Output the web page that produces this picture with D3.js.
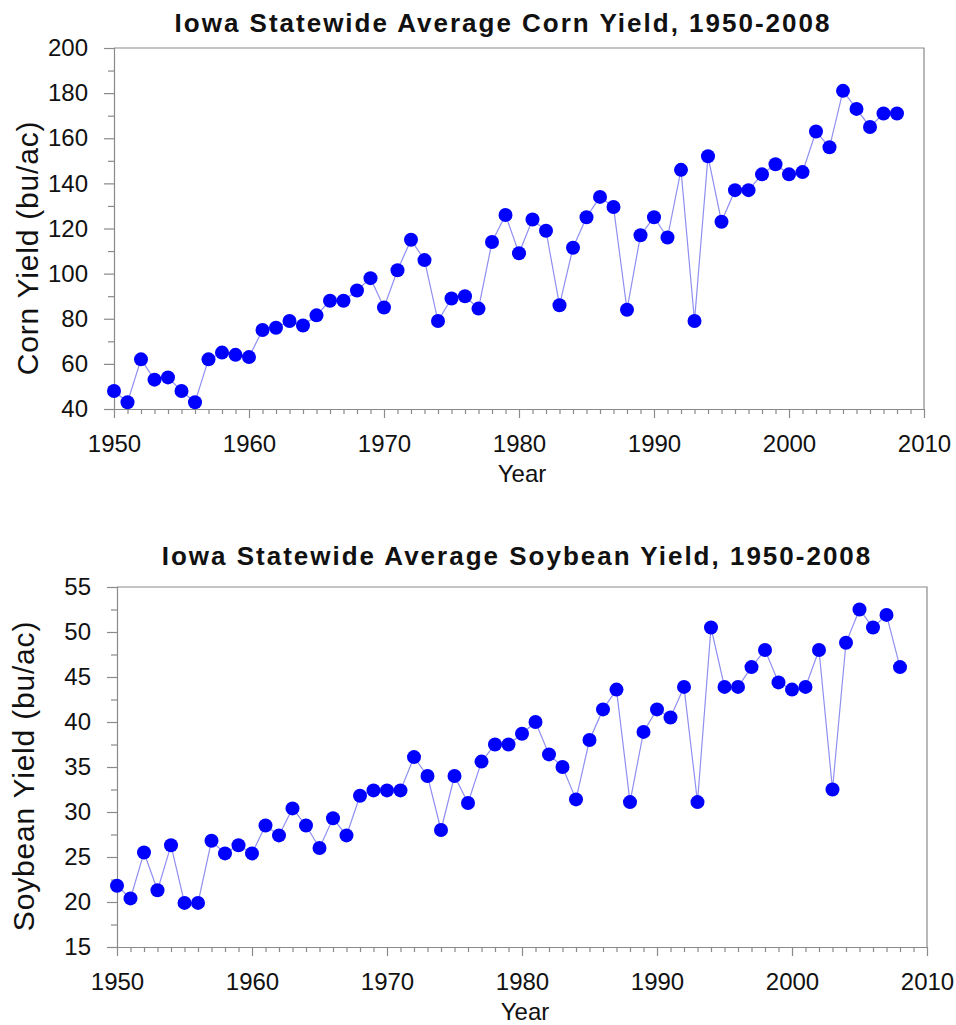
<!DOCTYPE html>
<html>
<head>
<meta charset="utf-8">
<script src="https://cdn.jsdelivr.net/npm/d3@7"></script>
<style>
  body { margin: 0; background: #fff; }
  text { font-family: "Liberation Sans", Arial, sans-serif; fill: #111; }
</style>
</head>
<body>
<svg id="chart" width="956" height="1025"></svg>
<script>
'use strict';

const years = [
  1950, 1951, 1952, 1953, 1954, 1955, 1956, 1957, 1958, 1959,
  1960, 1961, 1962, 1963, 1964, 1965, 1966, 1967, 1968, 1969,
  1970, 1971, 1972, 1973, 1974, 1975, 1976, 1977, 1978, 1979,
  1980, 1981, 1982, 1983, 1984, 1985, 1986, 1987, 1988, 1989,
  1990, 1991, 1992, 1993, 1994, 1995, 1996, 1997, 1998, 1999,
  2000, 2001, 2002, 2003, 2004, 2005, 2006, 2007, 2008
];

const cornYield = [
  48, 43, 62, 53, 54, 48, 43, 62, 65, 64,
  63, 75, 76, 79, 77, 81.5, 88, 88, 92.5, 98,
  85, 101.5, 115, 106, 79, 89, 90, 84.5, 114, 126,
  109, 124, 119, 86, 111.5, 125, 134, 129.5, 84, 117,
  125, 116, 146, 79, 152, 123, 137, 137, 144, 148.5,
  144, 145, 163, 156, 181, 173, 165, 171, 171
];

const soyYield = [
  21.8, 20.4, 25.5, 21.3, 26.3, 19.9, 19.9, 26.8, 25.4, 26.3,
  25.4, 28.5, 27.4, 30.4, 28.5, 26, 29.3, 27.4, 31.8, 32.4,
  32.4, 32.4, 36.1, 34, 28, 34, 31, 35.6, 37.5, 37.5,
  38.7, 40, 36.4, 35, 31.4, 38, 41.4, 43.6, 31.1, 38.9,
  41.4, 40.5, 43.9, 31.1, 50.5, 43.9, 43.9, 46.1, 48, 44.4,
  43.6, 43.9, 48, 32.5, 48.8, 52.5, 50.5, 51.9, 46.1
];

const xTicks = [1950, 1960, 1970, 1980, 1990, 2000, 2010];
const cornTicks = [40, 60, 80, 100, 120, 140, 160, 180, 200];
const cornMinor = [50, 70, 90, 110, 130, 150, 170, 190];
const soyTicks = [15, 20, 25, 30, 35, 40, 45, 50, 55];
const soyMinor = [17.5, 22.5, 27.5, 32.5, 37.5, 42.5, 47.5, 52.5];

const svg = d3.select('#chart');
const axisColor = '#8a8a8a';

function drawPanel(p) {
  const x = d3.scaleLinear().domain([1950, 2010]).range([p.left, p.right]);
  const y = d3.scaleLinear().domain(p.yDomain).range([p.bottom, p.top]);
  const g = svg.append('g');

  // frame (top and right)
  g.append('path')
    .attr('d', `M${p.left},${p.top}H${p.right}V${p.bottom}`)
    .attr('fill', 'none')
    .attr('stroke', axisColor)
    .attr('stroke-width', 1.2);

  // minor ticks
  g.append('g')
    .attr('transform', `translate(0,${p.bottom})`)
    .call(d3.axisBottom(x).tickValues(years.filter(yr => yr % 10 !== 0).concat([2009]))
      .tickSize(5).tickSizeOuter(0).tickFormat(''))
    .call(a => a.select('.domain').remove());
  g.append('g')
    .attr('transform', `translate(${p.left},0)`)
    .call(d3.axisLeft(y).tickValues(p.yMinor).tickSize(6).tickSizeOuter(0).tickFormat(''))
    .call(a => a.select('.domain').remove());

  const xAxis = g.append('g')
    .attr('transform', `translate(0,${p.bottom})`)
    .call(d3.axisBottom(x).tickValues(xTicks).tickFormat(d3.format('d'))
      .tickSize(9).tickSizeOuter(0).tickPadding(p.xPad));
  xAxis.select('.domain').attr('d', `M${p.left - 10},0.5H${p.right}`);

  g.append('g')
    .attr('transform', `translate(${p.left},0)`)
    .call(d3.axisLeft(y).tickValues(p.yTicks).tickSize(10).tickSizeOuter(0).tickPadding(16))
    .call(a => a.select('.domain').attr('d', `M0.5,${p.bottom}V${p.top}`));

  g.selectAll('.tick line, .domain')
    .attr('stroke', axisColor)
    .attr('stroke-width', 1.2);
  g.selectAll('.tick text')
    .style('font-size', '24px')
    .attr('fill', '#111');

  const line = d3.line()
    .x((d, i) => x(years[i]))
    .y(d => y(d));

  g.append('path')
    .datum(p.values)
    .attr('d', line)
    .attr('fill', 'none')
    .attr('stroke', '#8f8ff2')
    .attr('stroke-width', 1.2);

  g.selectAll('circle.pt')
    .data(p.values)
    .join('circle')
    .attr('class', 'pt')
    .attr('cx', (d, i) => x(years[i]))
    .attr('cy', d => y(d))
    .attr('r', 7)
    .attr('fill', '#0000ff');

  g.append('text')
    .attr('x', p.titleX)
    .attr('y', p.titleY)
    .attr('text-anchor', 'middle')
    .style('font-size', '26px')
    .style('letter-spacing', '2px')
    .style('font-weight', 'bold')
    .text(p.title);

  g.append('text')
    .attr('x', p.yearX)
    .attr('y', p.yearY)
    .attr('text-anchor', 'middle')
    .style('font-size', '24px')
    .text('Year');

  g.append('text')
    .attr('transform', `translate(${p.ylabX},${p.ylabY}) rotate(-90)`)
    .attr('text-anchor', 'middle')
    .attr('dy', '0.35em')
    .style('font-size', '30px')
    .style('letter-spacing', '0.8px')
    .text(p.ylabel);
}

drawPanel({
  values: cornYield,
  yDomain: [40, 200],
  yTicks: cornTicks,
  yMinor: cornMinor,
  top: 48, bottom: 409, left: 114, right: 924,
  xPad: 17,
  title: 'Iowa Statewide Average Corn Yield, 1950-2008',
  titleX: 503, titleY: 32,
  yearX: 522, yearY: 482,
  ylabel: 'Corn Yield (bu/ac)',
  ylabX: 27, ylabY: 248
});

drawPanel({
  values: soyYield,
  yDomain: [15, 55],
  yTicks: soyTicks,
  yMinor: soyMinor,
  top: 587, bottom: 947, left: 117, right: 927,
  xPad: 17,
  title: 'Iowa Statewide Average Soybean Yield, 1950-2008',
  titleX: 517, titleY: 565,
  yearX: 525, yearY: 1020,
  ylabel: 'Soybean Yield (bu/ac)',
  ylabX: 23, ylabY: 776
});
</script>
</body>
</html>
